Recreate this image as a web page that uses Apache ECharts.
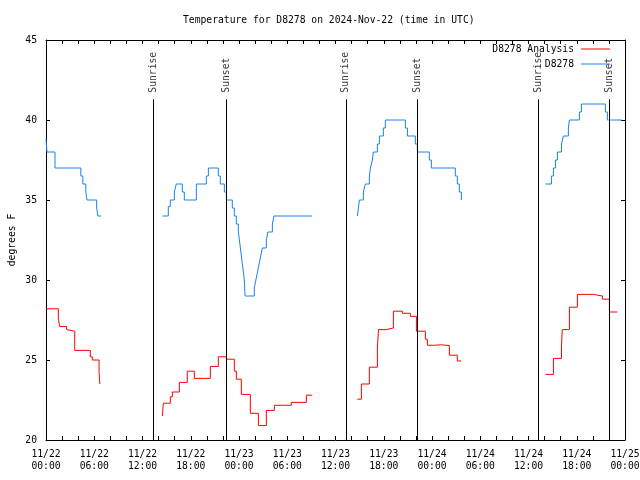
<!DOCTYPE html>
<html>
<head>
<meta charset="utf-8">
<script src="https://cdn.jsdelivr.net/npm/echarts@6/dist/echarts.min.js"></script>
<style>html,body{margin:0;padding:0;background:#fff}#c{width:640px;height:480px}</style>
</head>
<body>
<div id="c"></div>
<script>
const titleText = 'Temperature for D8278 on 2024-Nov-22 (time in UTC)';
const yAxisTitle = 'degrees F';
const xTickLabels = ['11/22\n00:00','11/22\n06:00','11/22\n12:00','11/22\n18:00','11/23\n00:00','11/23\n06:00','11/23\n12:00','11/23\n18:00','11/24\n00:00','11/24\n06:00','11/24\n12:00','11/24\n18:00','11/25\n00:00'];
const seriesNames = ['D8278 Analysis', 'D8278'];
const sunEvents = ['Sunrise','Sunset','Sunrise','Sunset','Sunrise','Sunset'];
const sunHours = [13.33, 22.42, 37.28, 46.2, 61.2, 70.05];
const sunLineTop = 41.3;

// hours since 11/22 00:00 UTC; null = gap
const blueHours = [
  0, 0.12, 1.12, 4.33, 4.58, 4.95, 5.1, 6.3, 6.45, 6.85, null,
  14.47, 15.21, 15.46, 15.96, 16.2, 16.95, 17.2, 18.7, 19.94, 20.19, 21.43, 21.68, 22.18, 22.43, 23.17, 23.42, 23.67, 23.92, 24.05, 24.17, 24.3, 24.41, 24.55, 24.66, 24.75, 25.9, 26.1, 26.3, 26.5, 26.7, 26.9, 27.4, 27.6, 28.15, 28.35, 33.1, null,
  38.72, 38.85, 38.97, 39.47, 39.71, 40.21, 40.34, 40.58, 40.71, 41.21, 41.46, 41.95, 42.2, 44.69, 44.94, 45.93, 46.18, 47.67, 47.92, 50.9, 51.15, 51.4, 51.65, 51.7, null,
  62.1, 62.85, 63.1, 63.35, 63.6, 64.1, 64.34, 64.96, 65.09, 66.33, 66.58, 69.56, 69.81, 71.6
];
const blueTemps = [
  38.8, 38, 37, 36.5, 36, 35.5, 35, 34.5, 34, 34, null,
  34, 34.6, 35, 35.5, 36, 35.5, 35, 36, 36.5, 37, 36.5, 36, 35.5, 35, 34.5, 34, 33.5, 33, 32.5, 32, 31.5, 31, 30.5, 30, 29, 29.5, 30, 30.5, 31, 31.5, 32, 32.5, 33, 33.5, 34, 34, null,
  34, 34.5, 35, 35.5, 36, 36.5, 37, 37.5, 38, 38.5, 39, 39.5, 40, 39.5, 39, 38.5, 38, 37.5, 37, 36.5, 36, 35.5, 35, 35, null,
  36, 36.5, 37, 37.5, 38, 38.5, 39, 39.5, 40, 40.5, 41, 40.5, 40, 40
];
const redHours = [
  0, 1.53, 1.7, 2.57, 2.74, 3.57, 5.51, 5.76, 6.6, 6.7, 6.74, null,
  14.47, 14.59, 15.46, 15.71, 16.58, 17.57, 18.45, 20.44, 21.43, 22.43, 23.42, 23.67, 24.29, 25.41, 26.41, 27.4, 28.4, 30.51, 32.38, 33.12, null,
  38.72, 39.22, 40.21, 41.21, 41.35, 42.3, 43.2, 44.32, 45.31, 46.06, 47.18, 47.43, 48.3, 49.17, 50.16, 51.15, 51.65, null,
  62.1, 63.1, 64.1, 64.2, 65.09, 66.08, 68.07, 69.19, 70.06, 71.06
];
const redTemps = [
  28.2, 27.6, 27.1, 26.9, 26.8, 25.6, 25.2, 25.0, 24.2, 23.5, 23.5, null,
  21.5, 22.3, 22.7, 23.0, 23.6, 24.3, 23.85, 24.6, 25.2, 25.05, 24.3, 23.8, 22.85, 21.67, 20.9, 21.85, 22.17, 22.35, 22.8, 22.8, null,
  22.55, 23.5, 24.55, 25.8, 26.9, 27.0, 28.05, 27.92, 27.73, 26.8, 26.3, 25.92, 25.95, 25.9, 25.3, 24.94, 24.94, null,
  24.1, 25.1, 25.9, 26.9, 28.3, 29.1, 29.0, 28.8, 28.0, 28.0
];

const FONT = 'DejaVu Sans Mono';
const FS = 9.7;
function pairs(hs, vs) {
  return hs.map((h, i) => (h === null ? ['-', '-'] : [h, vs[i]]));
}
const tickCommon = { inside: true, length: 4, lineStyle: { color: '#000', width: 1 } };
const minorCommon = { show: true, splitNumber: 3, length: 4, lineStyle: { color: '#000', width: 1 } };

const chart = echarts.init(document.getElementById('c'), null, { renderer: 'canvas' });
chart.setOption({
  animation: false,
  backgroundColor: '#fff',
  title: {
    text: titleText, left: 183, top: 15, padding: 0,
    textStyle: { fontFamily: FONT, fontSize: FS, fontWeight: 'normal', color: '#000' }
  },
  legend: {
    data: seriesNames, orient: 'vertical', right: 30, top: 44, align: 'right',
    icon: 'rect', itemWidth: 29, itemHeight: 1, itemGap: 5, padding: 0,
    textStyle: { fontFamily: FONT, fontSize: FS, color: '#000', padding: [0, 2, 0, 0] }
  },
  grid: { left: 46, right: 15, top: 40, bottom: 40, containLabel: false, outerBoundsMode: 'none' },
  xAxis: [
    {
      type: 'value', min: 0, max: 72, interval: 6, position: 'bottom',
      axisLine: { show: true, onZero: false, lineStyle: { color: '#000', width: 1 } },
      axisTick: tickCommon, minorTick: minorCommon, splitLine: { show: false },
      axisLabel: {
        fontFamily: FONT, fontSize: FS, color: '#000', margin: 8, lineHeight: 12,
        formatter: v => xTickLabels[Math.round(v / 6)]
      }
    },
    {
      type: 'value', min: 0, max: 72, interval: 6, position: 'top',
      axisLine: { show: true, onZero: false, lineStyle: { color: '#000', width: 1 } },
      axisTick: tickCommon, minorTick: minorCommon, splitLine: { show: false },
      axisLabel: { show: false }
    }
  ],
  yAxis: [
    {
      type: 'value', min: 20, max: 45, interval: 5, position: 'left',
      name: yAxisTitle, nameLocation: 'middle', nameRotate: 90, nameGap: 29, nameMoveOverlap: false,
      nameTextStyle: { fontFamily: FONT, fontSize: FS, color: '#000' },
      axisLine: { show: true, onZero: false, lineStyle: { color: '#000', width: 1 } },
      axisTick: tickCommon, splitLine: { show: false },
      axisLabel: { fontFamily: FONT, fontSize: FS, color: '#000', margin: 9 }
    },
    {
      type: 'value', min: 20, max: 45, interval: 5, position: 'right',
      axisLine: { show: true, onZero: false, lineStyle: { color: '#000', width: 1 } },
      axisTick: tickCommon, splitLine: { show: false },
      axisLabel: { show: false }
    }
  ],
  series: [
    {
      name: seriesNames[0], type: 'line', step: 'end', showSymbol: false, symbol: 'none',
      connectNulls: false, color: '#ff0000',
      lineStyle: { color: '#ff0000', width: 1 },
      data: pairs(redHours, redTemps), z: 3
    },
    {
      name: seriesNames[1], type: 'line', step: 'end', showSymbol: false, symbol: 'none',
      connectNulls: false, color: '#1a82f0',
      lineStyle: { color: '#1a82f0', width: 1 },
      data: pairs(blueHours, blueTemps), z: 3
    },
    {
      name: 'sun', type: 'scatter', symbolSize: 1, silent: true,
      itemStyle: { color: 'rgba(0,0,0,0)' },
      data: sunHours.map((h, i) => ({ value: [h, sunLineTop], name: sunEvents[i] })),
      label: {
        show: true, position: 'top', distance: 6, rotate: 90, align: 'left', verticalAlign: 'middle',
        formatter: p => p.name, fontFamily: FONT, fontSize: FS, color: '#000'
      },
      markLine: {
        symbol: 'none', silent: true, animation: false,
        lineStyle: { color: '#000', width: 1, type: 'solid' },
        label: { show: false },
        data: sunHours.map(h => [{ coord: [h, 20] }, { coord: [h, sunLineTop] }])
      },
      z: 2
    }
  ]
});
</script>
</body>
</html>
